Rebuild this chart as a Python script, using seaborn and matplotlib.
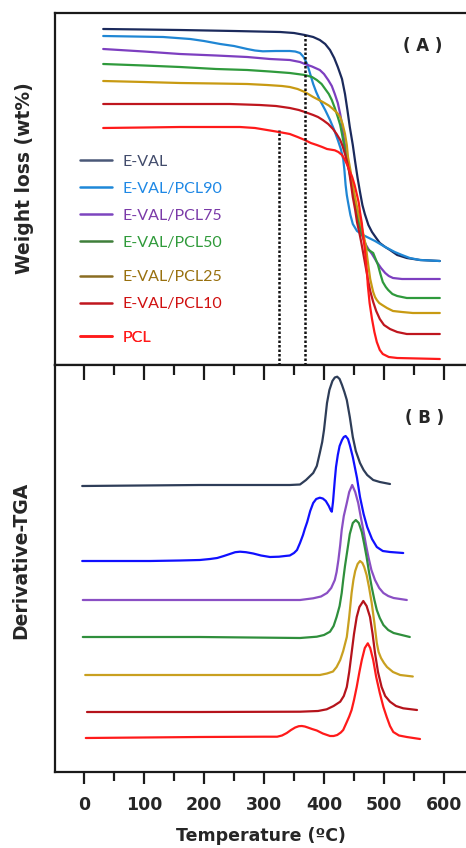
import numpy as np
import pandas as pd
import seaborn as sns
import matplotlib.pyplot as plt
from matplotlib.lines import Line2D
from matplotlib.ticker import MultipleLocator

# =========================
# 1. Data (temperature in degC, signal in arbitrary units)
# =========================
labels = ["E-VAL", "E-VAL/PCL90", "E-VAL/PCL75", "E-VAL/PCL50",
          "E-VAL/PCL25", "E-VAL/PCL10", "PCL"]

# (A) TGA weight curves (stacked, arbitrary offset units)
tga_eval_t = [32, 100, 160, 250, 327, 350, 368, 382, 393, 402, 410, 417, 423, 430, 435, 439, 443,
              448, 452, 456, 460, 464, 468, 474, 480, 487, 493, 502, 510, 522, 538, 560, 593]
tga_eval_w = [336, 335.5, 335, 334, 333, 332, 330, 328, 325, 321, 315, 307, 298, 286, 271, 255, 238,
              220, 203, 187, 173, 160, 151, 140, 133, 127, 122, 118, 115, 110, 107, 105, 104]

tga_pcl90_t = [32, 132, 177, 200, 227, 250, 272, 285, 298, 320, 343, 352, 360, 366, 372, 377, 382,
               387, 393, 402, 410, 417, 423, 428, 432, 434, 436, 438, 440, 444, 448, 455, 465, 475,
               485, 502, 518, 530, 543, 560, 593]
tga_pcl90_w = [329, 328, 326, 324, 321, 319, 316, 314.5, 313.7, 314, 314, 313.5, 312, 308, 301, 291,
               281, 273, 265, 255, 245, 235, 225, 216, 206, 195, 180, 170, 163, 150, 141, 134, 130,
               127, 124, 118, 113, 110, 107, 105, 104]

tga_pcl75_t = [32, 100, 160, 220, 272, 310, 343, 360, 368, 380, 393, 400, 407, 413, 418, 423, 427,
               430, 432, 435, 438, 445, 449, 453, 457, 462, 466, 470, 475, 480, 484, 488, 495, 502,
               508, 515, 530, 548, 593]
tga_pcl75_w = [316, 313.5, 311, 309.5, 308, 306, 305, 303, 301, 298.5, 295, 291, 285, 279, 271, 262,
               251, 241, 231, 220, 208, 188, 173, 158, 146, 135, 126, 120, 115, 111, 107, 103, 97,
               92, 89, 87, 86, 86, 86]

tga_pcl50_t = [32, 100, 160, 220, 272, 310, 343, 368, 380, 388, 396, 402, 408, 413, 418, 423, 427,
               430, 434, 438, 443, 447, 451, 455, 459, 463, 468, 472, 477, 482, 486, 490, 494, 498,
               503, 507, 514, 522, 538, 593]
tga_pcl50_w = [301, 299.5, 298, 296, 295, 293.5, 292, 290, 288, 285, 281, 276, 271, 265, 257, 248,
               240, 231, 218, 205, 191, 178, 164, 151, 140, 131, 122, 116, 114, 112, 106, 100, 91,
               83, 78, 75, 71, 69, 67, 67]

tga_pcl25_t = [32, 100, 160, 220, 272, 305, 330, 343, 356, 368, 382, 398, 408, 415, 422, 427, 431,
               435, 438, 440, 444, 447, 451, 455, 459, 463, 467, 470, 472, 474, 477, 480, 482, 485,
               488, 492, 497, 505, 515, 530, 548, 593]
tga_pcl25_w = [284, 283, 282, 281.5, 281, 280, 279, 278, 276, 273, 268, 263, 259.5, 256, 252, 248,
               241, 231, 220, 208, 195, 183, 170, 158, 147, 138, 127, 118, 108, 99, 86, 78, 73, 68,
               65, 62, 60, 57, 54, 53, 52, 52]

tga_pcl10_t = [32, 100, 160, 243, 293, 320, 343, 358, 368, 382, 390, 398, 407, 415, 421, 427, 431,
               435, 439, 442, 445, 448, 452, 455, 459, 462, 465, 468, 471, 473, 477, 482, 487, 493,
               500, 510, 522, 538, 593]
tga_pcl10_w = [261, 261, 261, 261, 260, 259, 257, 255, 253, 250, 248, 245, 241, 236, 231, 225, 219,
               211, 202, 193, 181, 168, 155, 143, 132, 123, 113, 103, 93, 86, 74, 63, 54, 46, 40,
               36, 33, 31, 31]

tga_pcl_t = [32, 100, 160, 260, 285, 305, 325, 343, 356, 368, 378, 388, 397, 405, 412, 418, 424,
             430, 434, 438, 442, 447, 451, 455, 458, 460, 463, 465, 468, 470, 472, 473, 476, 480,
             484, 488, 493, 498, 508, 522, 593]
tga_pcl_w = [237, 237.5, 238, 238, 237, 235, 233, 231, 228, 225, 222, 220, 218, 216, 215.3, 214.7,
             213, 210, 206, 201, 195, 188, 180, 170, 162, 153, 142, 130, 116, 103, 90, 80, 62, 46,
             33, 23, 15, 11, 8, 7, 6]

onset_t = [325, 368]
onset_top = [235, 330]

# (B) derivative TGA curves (stacked, arbitrary offset units)
dtg_eval_t = [-3, 193, 343, 360, 370, 382, 388, 393, 397, 400, 405, 409, 414, 418, 422, 426, 430,
              434, 438, 443, 448, 453, 460, 466, 472, 482, 493, 510]
dtg_eval_d = [286, 287, 287, 287.5, 292, 299, 306, 319, 330, 342, 369, 382, 391, 394.5, 395.3, 393,
              387, 380, 372, 355, 335, 321, 309, 302, 297, 292, 290, 288]

dtg_pcl90_t = [-3, 110, 160, 193, 210, 222, 233, 243, 252, 260, 270, 282, 295, 310, 325, 335, 343,
               350, 355, 360, 365, 368, 372, 377, 382, 387, 393, 398, 403, 408, 411, 413, 415, 418,
               420, 423, 426, 430, 433, 436, 440, 443, 448, 452, 455, 460, 466, 472, 480, 488, 498,
               510, 532]
dtg_pcl90_d = [211, 211, 211.5, 212, 213, 214, 216, 218, 219.8, 220.3, 219.8, 218.5, 216.5, 215,
               215.3, 216, 216.5, 219, 222, 229, 237, 243, 250, 261, 269, 273, 274.3, 273.5, 271,
               266, 262, 260.3, 270, 292, 305, 317, 326, 332, 335, 336, 333, 327, 315, 303, 294,
               275, 258, 245, 233, 225, 221, 220, 219]

dtg_pcl75_t = [-2, 193, 360, 382, 395, 405, 412, 418, 421, 424, 427, 429.5, 433, 438, 442, 447, 452,
               457, 461, 465.5, 470, 474, 479, 485, 492, 499, 507, 516, 538]
dtg_pcl75_d = [172, 172, 172, 173.7, 175.5, 179, 184, 192, 200, 212, 227, 242, 256, 269, 280, 287,
               280, 269, 256, 242, 227, 215, 202, 192, 184, 179, 176, 174, 172]

dtg_pcl50_t = [-2, 193, 360, 388, 400, 410, 416, 421, 426, 429.5, 432, 435, 438, 443, 448, 453, 458,
               463, 467, 471, 475, 479.5, 484, 488, 493, 499, 507, 516, 543]
dtg_pcl50_d = [135, 135, 134, 135.3, 137, 140.3, 146, 155, 166, 179, 192, 206, 218, 238, 249, 252,
               249, 240, 228, 215, 200, 185, 172, 162, 154, 147, 142, 139, 135]

dtg_pcl25_t = [2, 193, 360, 393, 405, 415, 421, 427, 432, 438, 442, 446, 449, 452, 456, 460, 464,
               467, 471, 475, 479.5, 484, 488, 491, 495, 500, 505, 515, 527, 548]
dtg_pcl25_d = [97, 97, 97, 97, 98.5, 100.5, 105, 112, 121, 135, 155, 179, 192, 201, 208, 211, 209,
               205, 197, 185, 169, 149, 129, 120, 114, 109, 105, 100, 97, 95.5]

dtg_pcl10_t = [5, 193, 360, 390, 404.5, 416, 427, 433, 438, 442, 446, 450, 454.5, 459, 465.5, 471,
               476.7, 481, 485, 490, 496, 502, 510, 520, 532, 555]
dtg_pcl10_d = [60, 60, 60.3, 61, 62.7, 66, 70.3, 76, 85, 100, 119, 138, 155, 165, 171, 166, 155,
               138, 119, 100, 85, 76, 70.3, 66, 63.7, 62]

dtg_pcl_t = [3, 193, 300, 322, 330, 338, 345, 352, 358, 363, 368, 373, 380, 388, 398, 410, 416, 422,
             428, 432, 438, 442, 446, 450, 454.5, 459, 463, 468, 473, 477, 482, 487, 493, 499,
             504.5, 510, 515.5, 525, 538, 560]
dtg_pcl_d = [34, 35, 35.3, 35.3, 36.5, 39, 42, 44.5, 45.8, 46, 45.5, 44.5, 43, 41.5, 38.5, 36, 36,
             37, 39.5, 42, 50, 55.5, 62, 72, 85, 100, 112, 124, 128.7, 124, 112, 95, 79, 65, 55,
             46, 40, 36.5, 35, 33]

tga_curves = [(tga_eval_t, tga_eval_w), (tga_pcl90_t, tga_pcl90_w), (tga_pcl75_t, tga_pcl75_w),
              (tga_pcl50_t, tga_pcl50_w), (tga_pcl25_t, tga_pcl25_w), (tga_pcl10_t, tga_pcl10_w),
              (tga_pcl_t, tga_pcl_w)]
dtg_curves = [(dtg_eval_t, dtg_eval_d), (dtg_pcl90_t, dtg_pcl90_d), (dtg_pcl75_t, dtg_pcl75_d),
              (dtg_pcl50_t, dtg_pcl50_d), (dtg_pcl25_t, dtg_pcl25_d), (dtg_pcl10_t, dtg_pcl10_d),
              (dtg_pcl_t, dtg_pcl_d)]

tga_colors = ["#1b2a5c", "#1f86d4", "#7d3fc0", "#2f9a3c", "#c89a12", "#bf161e", "#ff1a1a"]
dtg_colors = ["#2e3d58", "#1010ff", "#8a4fc4", "#2f8f3c", "#c9a020", "#b5131b", "#ff1a1a"]
legend_line_colors = ["#4a5878", "#1e88d8", "#7d45bf", "#3f7f3a", "#8a6d22", "#c0161e", "#ff1a1a"]
legend_text_colors = ["#414b6b", "#1e88e5", "#7a3aa8", "#2f9a3a", "#98700e", "#d01010", "#ff1a1a"]

# =========================
# 2. Figure
# =========================
sns.set_style("ticks")
plt.rcParams["font.family"] = ["DejaVu Sans"]

W, H = 466, 848
fig = plt.figure(figsize=(W / 100, H / 100), dpi=100)
left = 55 / W
ax_a = fig.add_axes([left, 1 - 365 / H, 1 - left, (365 - 13) / H])
ax_b = fig.add_axes([left, 1 - 772 / H, 1 - left, (772 - 365) / H])

xlim = ((55 - 84) / 0.6, (466 - 84) / 0.6)

for (t, w), c in zip(tga_curves, tga_colors):
    df = pd.DataFrame({"T": t, "w": w})
    sns.lineplot(data=df, x="T", y="w", ax=ax_a, color=c, lw=1.6,
                 sort=False, estimator=None)
ax_a.vlines(onset_t, 0, onset_top, colors="#111111", lw=1.8, linestyles=(0, (1, 0.8)))

for (t, d), c in zip(dtg_curves, dtg_colors):
    df = pd.DataFrame({"T": t, "d": d})
    sns.lineplot(data=df, x="T", y="d", ax=ax_b, color=c, lw=1.6,
                 sort=False, estimator=None)

ax_a.set_xlim(*xlim)
ax_a.set_ylim(0, 352)
ax_b.set_xlim(*xlim)
ax_b.set_ylim(0, 407)

for ax in (ax_a, ax_b):
    ax.spines["right"].set_visible(False)
    for s in ("left", "top", "bottom"):
        ax.spines[s].set_linewidth(1.6)
        ax.spines[s].set_color("#1a1a1a")
    ax.set_yticks([])
    ax.set_xlabel("")
    for ln in ax.lines:
        ln.set_solid_joinstyle("round")
        ln.set_solid_capstyle("round")

ax_a.set_xticks([])
ax_a.set_ylabel("Weight loss (wt%)", fontsize=13.5, fontweight="bold")
ax_a.yaxis.set_label_coords(-0.05, 0.53)
ax_a.text(0.895, 0.905, "( A )", transform=ax_a.transAxes, fontsize=12,
          fontweight="bold", ha="center", va="center")

ax_b.xaxis.set_major_locator(MultipleLocator(100))
ax_b.xaxis.set_minor_locator(MultipleLocator(50))
ax_b.tick_params(axis="x", which="both", top=True, bottom=True, labeltop=False,
                 direction="out", color="#1a1a1a", width=1.6)
ax_b.tick_params(axis="x", which="major", length=8.5, pad=9, labelsize=12.5)
ax_b.tick_params(axis="x", which="minor", length=6.5)
# top ticks point inward
for tk in ax_b.xaxis.get_major_ticks():
    tk.tick2line.set_marker(3)
    tk.tick2line.set_markersize(11)
for tk in ax_b.xaxis.get_minor_ticks():
    tk.tick2line.set_marker(3)
    tk.tick2line.set_markersize(7)
for lab in ax_b.get_xticklabels():
    lab.set_fontweight("bold")
ax_b.set_xlabel("Temperature (ºC)", fontsize=12.5, fontweight="bold", labelpad=9)
ax_b.set_ylabel("Derivative-TGA", fontsize=13.5, fontweight="bold")
ax_b.yaxis.set_label_coords(-0.061, 0.52)
ax_b.text(0.9, 0.87, "( B )", transform=ax_b.transAxes, fontsize=12,
          fontweight="bold", ha="center", va="center")

# legend drawn in three groups to keep the uneven row gaps of the original
handles = [Line2D([], [], color=c, lw=1.8) for c in legend_line_colors]
groups = [(slice(0, 4), 0.598), (slice(4, 6), 0.269), (slice(6, 7), 0.098)]
for sl, ytop in groups:
    leg = ax_a.legend(handles[sl], labels[sl], loc="upper left", bbox_to_anchor=(0.062, ytop),
                      frameon=False, borderpad=0, borderaxespad=0, handlelength=2.0,
                      handletextpad=0.6, labelspacing=0.8, labelcolor=legend_text_colors[sl],
                      prop={"family": "Lato", "size": 11.5})
    ax_a.add_artist(leg)

fig.savefig("out.png", dpi=100)
